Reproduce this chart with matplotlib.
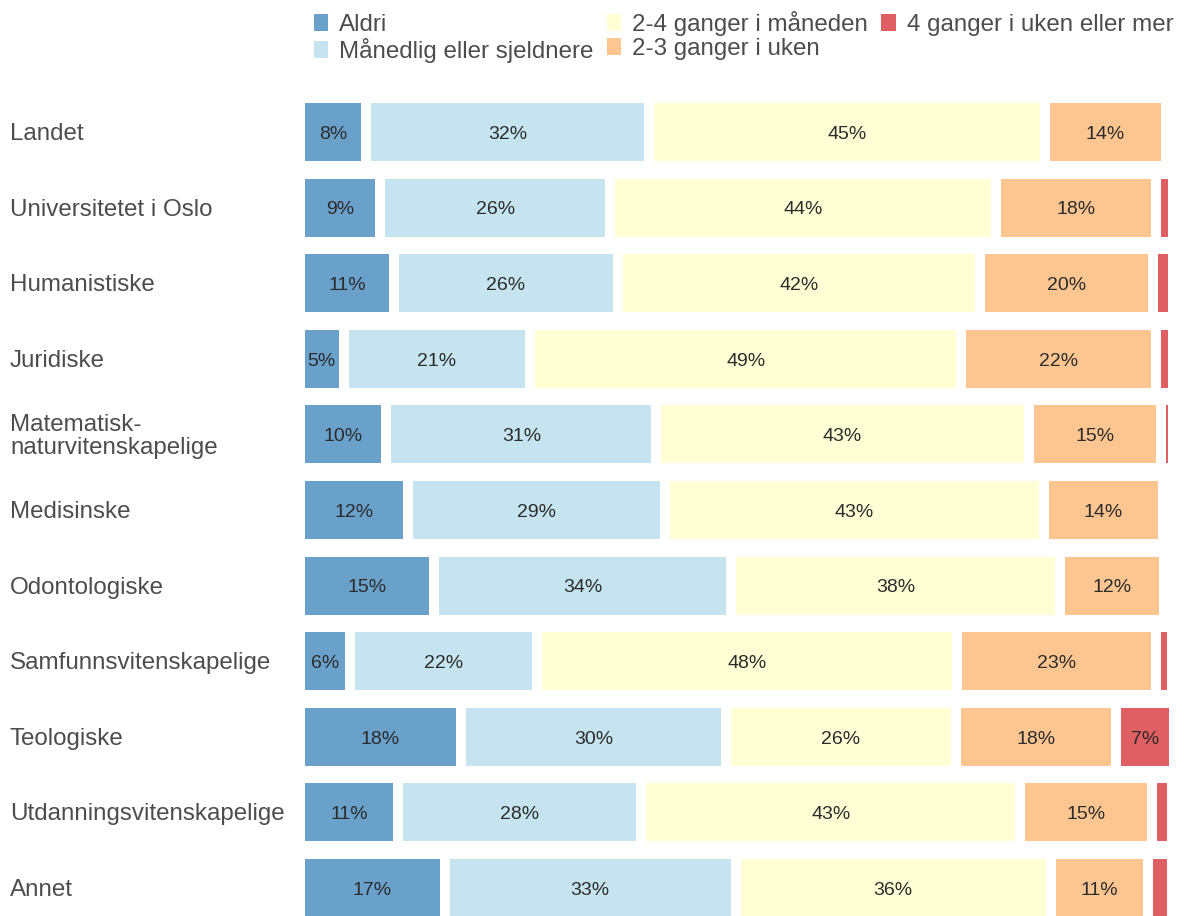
import matplotlib.pyplot as plt
from matplotlib.patches import Patch

plt.rcParams['font.family'] = ['Liberation Sans', 'DejaVu Sans']

categories = ['Landet', 'Universitetet i Oslo', 'Humanistiske', 'Juridiske',
              'Matematisk-\nnaturvitenskapelige', 'Medisinske', 'Odontologiske',
              'Samfunnsvitenskapelige', 'Teologiske', 'Utdanningsvitenskapelige', 'Annet']
series = ['Aldri', 'Månedlig eller sjeldnere', '2-4 ganger i måneden',
          '2-3 ganger i uken', '4 ganger i uken eller mer']
aldri = [7.6, 9.2, 10.8, 5.0, 9.9, 12.4, 15.3, 5.7, 18.4, 11.2, 16.6]
maanedlig = [32.4, 26.3, 25.6, 21.4, 30.9, 29.4, 34.1, 21.5, 30.4, 27.9, 33.3]
to_fire_mnd = [45.3, 44.2, 41.5, 49.3, 42.7, 43.4, 37.6, 48.1, 26.3, 43.4, 36.1]
to_tre_uke = [13.9, 18.4, 19.8, 22.3, 15.1, 13.6, 12.0, 22.8, 18.4, 15.1, 11.1]
fire_uke = [0.0, 1.9, 2.3, 2.0, 1.35, 0.0, 0.0, 1.8, 6.6, 2.3, 2.8]
colors = ['#6aa1cb', '#c5e4ef', '#fffed4', '#fdc590', '#e05f62']

fig = plt.figure(figsize=(11.89, 9.16), dpi=100)
ax = fig.add_axes([300 / 1189, 0, 873 / 1189, 826 / 916])

y = list(range(len(categories)))
left = [0.0] * len(categories)
for vals, col in zip([aldri, maanedlig, to_fire_mnd, to_tre_uke, fire_uke], colors):
    ax.barh(y, vals, left=left, height=0.9, color=col, edgecolor='white', linewidth=7.2)
    for i, v in enumerate(vals):
        if v >= 4.5:
            ax.text(left[i] + v / 2, i + 0.03, f'{round(v):.0f}%', ha='center', va='center',
                    fontsize=14, color='#2b2b2b')
    left = [l + v for l, v in zip(left, vals)]

ax.set_xlim(0, 100)
ax.set_ylim(10 + 28 / 75.6, -42 / 75.6)
ax.axis('off')

for i, cat in enumerate(categories):
    fig.text(10 / 1189, 1 - (134 + i * 75.6) / 916, cat, ha='left', va='center',
             fontsize=17.4, color='#4d4d4d', linespacing=1.1)

handles = [Patch(facecolor=c, edgecolor='none') for c in colors]
fig.legend(handles, series, ncol=3, loc='upper left', bbox_to_anchor=(292 / 1189, 1.012),
           frameon=False, fontsize=17.4, handlelength=0.6, handleheight=0.7,
           handletextpad=0.45, columnspacing=0.55, labelspacing=0.1, labelcolor='#4d4d4d')

fig.savefig('out.png', dpi=100)
